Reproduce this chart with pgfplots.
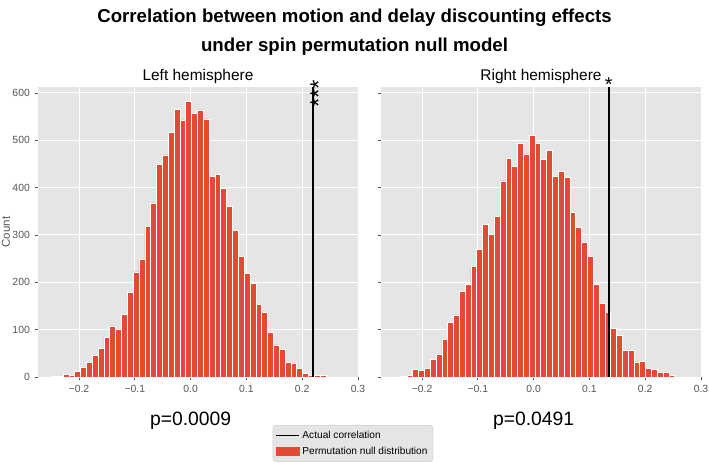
\documentclass[border=0pt]{standalone}
\usepackage{fontspec}
\setmainfont{Liberation Sans}
\usepackage{pgfplots}
\pgfplotsset{compat=1.18}
\definecolor{bg}{HTML}{E5E5E5}
\definecolor{barred}{HTML}{E24A33}
\definecolor{tickgray}{HTML}{555555}

\pgfplotsset{
  hist/.style={
    scale only axis, width=240pt, height=217.5pt,
    xmin=-0.2735, xmax=0.3, ymin=0, ymax=612.5,
    clip=false,
    axis background/.style={fill=bg},
    axis line style={draw=none},
    grid=major, major grid style={white, line width=0.75pt},
    xtick={-0.2,-0.1,0,0.1,0.2,0.3},
    xticklabels={−0.2,−0.1,0.0,0.1,0.2,0.3},
    ytick={0,100,200,300,400,500,600},
    tick align=outside, tick pos=left,
    major tick length=2.6pt,
    tick style={tickgray, line width=0.6pt},
    ticklabel style={font=\fontsize{7.8}{9}\selectfont, text=tickgray},
    /pgf/number format/assume math mode=true,
    title style={font=\fontsize{11.6}{13}\selectfont, at={(0.5,1)}, anchor=base, yshift=-1pt, inner sep=0pt},
  }
}

\begin{document}
\begin{tikzpicture}
\path[use as bounding box] (0,0) rectangle (531.75pt,346.5pt);

\node[align=center, font=\bfseries\fontsize{14}{21.5}\selectfont] at (265.9pt,322.5pt)
  {Correlation between motion and delay discounting effects\\under spin permutation null model};

% Left hemisphere
\begin{axis}[hist, at={(28.5pt,63.75pt)}, anchor=south west,
  title={Left hemisphere},
  legend cell align=left,
  legend style={at={(0.984,-0.229)}, anchor=center, fill=bg, draw=white!80!black,
    rounded corners=2pt, font=\fontsize{7.6}{9}\selectfont, row sep=1pt, inner sep=2pt}]
\addlegendimage{black, line width=1.1pt, sharp corners}
\addlegendentry{Actual correlation}
\addlegendimage{area legend, fill=barred, draw=barred, sharp corners}
\addlegendentry{Permutation null distribution}
\addplot[ybar interval, fill=barred, draw=white, line width=0.4pt, forget plot] coordinates {
(-0.2496,1) (-0.2391,1) (-0.2287,5) (-0.2182,3) (-0.2077,12) (-0.1973,21)
(-0.1868,31) (-0.1763,46) (-0.1658,61) (-0.1554,83) (-0.1449,108) (-0.1344,100)
(-0.1240,133) (-0.1135,179) (-0.1030,222) (-0.0926,249) (-0.0821,318) (-0.0716,368)
(-0.0611,449) (-0.0507,469) (-0.0402,517) (-0.0297,566) (-0.0193,543) (-0.0088,582)
(0.0017,556) (0.0122,564) (0.0226,545) (0.0331,424) (0.0436,428) (0.0540,399)
(0.0645,361) (0.0750,309) (0.0854,255) (0.0959,219) (0.1064,198) (0.1169,154)
(0.1273,137) (0.1378,95) (0.1483,68) (0.1587,59) (0.1692,31) (0.1797,30)
(0.1901,18) (0.2006,8) (0.2111,4) (0.2215,3) (0.2320,3) (0.2425,0)
};
\addplot[black, line width=1.1pt, forget plot] coordinates {(0.2196,0) (0.2196,612.5)};
\node[rotate=90, anchor=base, font=\fontsize{18}{18}\selectfont, inner sep=0pt] at (axis cs:0.2440,598) {***};
\node[rotate=90, font=\fontsize{8.6}{10}\selectfont, text=tickgray] at (rel axis cs:-0.1,0.5) {Count};
\node[font=\fontsize{14.5}{16}\selectfont] at (axis cs:0,-92) {p=0.0009};
\end{axis}

% Right hemisphere
\begin{axis}[hist, at={(285.75pt,63.75pt)}, anchor=south west,
  title={Right hemisphere}, yticklabels={}]
\addplot[ybar interval, fill=barred, draw=white, line width=0.4pt] coordinates {
(-0.2375,1) (-0.2271,4) (-0.2166,16) (-0.2062,14) (-0.1958,19) (-0.1854,37)
(-0.1749,48) (-0.1645,80) (-0.1541,116) (-0.1436,131) (-0.1332,181) (-0.1228,195)
(-0.1123,234) (-0.1019,270) (-0.0915,323) (-0.0811,301) (-0.0706,340) (-0.0602,414)
(-0.0498,462) (-0.0393,445) (-0.0289,493) (-0.0185,471) (-0.0080,510) (0.0024,493)
(0.0128,459) (0.0233,478) (0.0337,424) (0.0441,435) (0.0545,421) (0.0650,347)
(0.0754,316) (0.0858,285) (0.0963,255) (0.1067,196) (0.1171,156) (0.1276,136)
(0.1380,102) (0.1484,88) (0.1588,56) (0.1693,56) (0.1797,32) (0.1901,33)
(0.2006,19) (0.2110,16) (0.2214,9) (0.2319,9) (0.2423,4) (0.2527,0)
};
\addplot[black, line width=1.1pt] coordinates {(0.1347,0) (0.1347,612.5)};
\node[anchor=base, font=\fontsize{15}{15}\selectfont, inner sep=0pt] at (axis cs:0.1347,604) {*};
\node[font=\fontsize{14.5}{16}\selectfont] at (axis cs:0,-92) {p=0.0491};
\end{axis}
\end{tikzpicture}
\end{document}
